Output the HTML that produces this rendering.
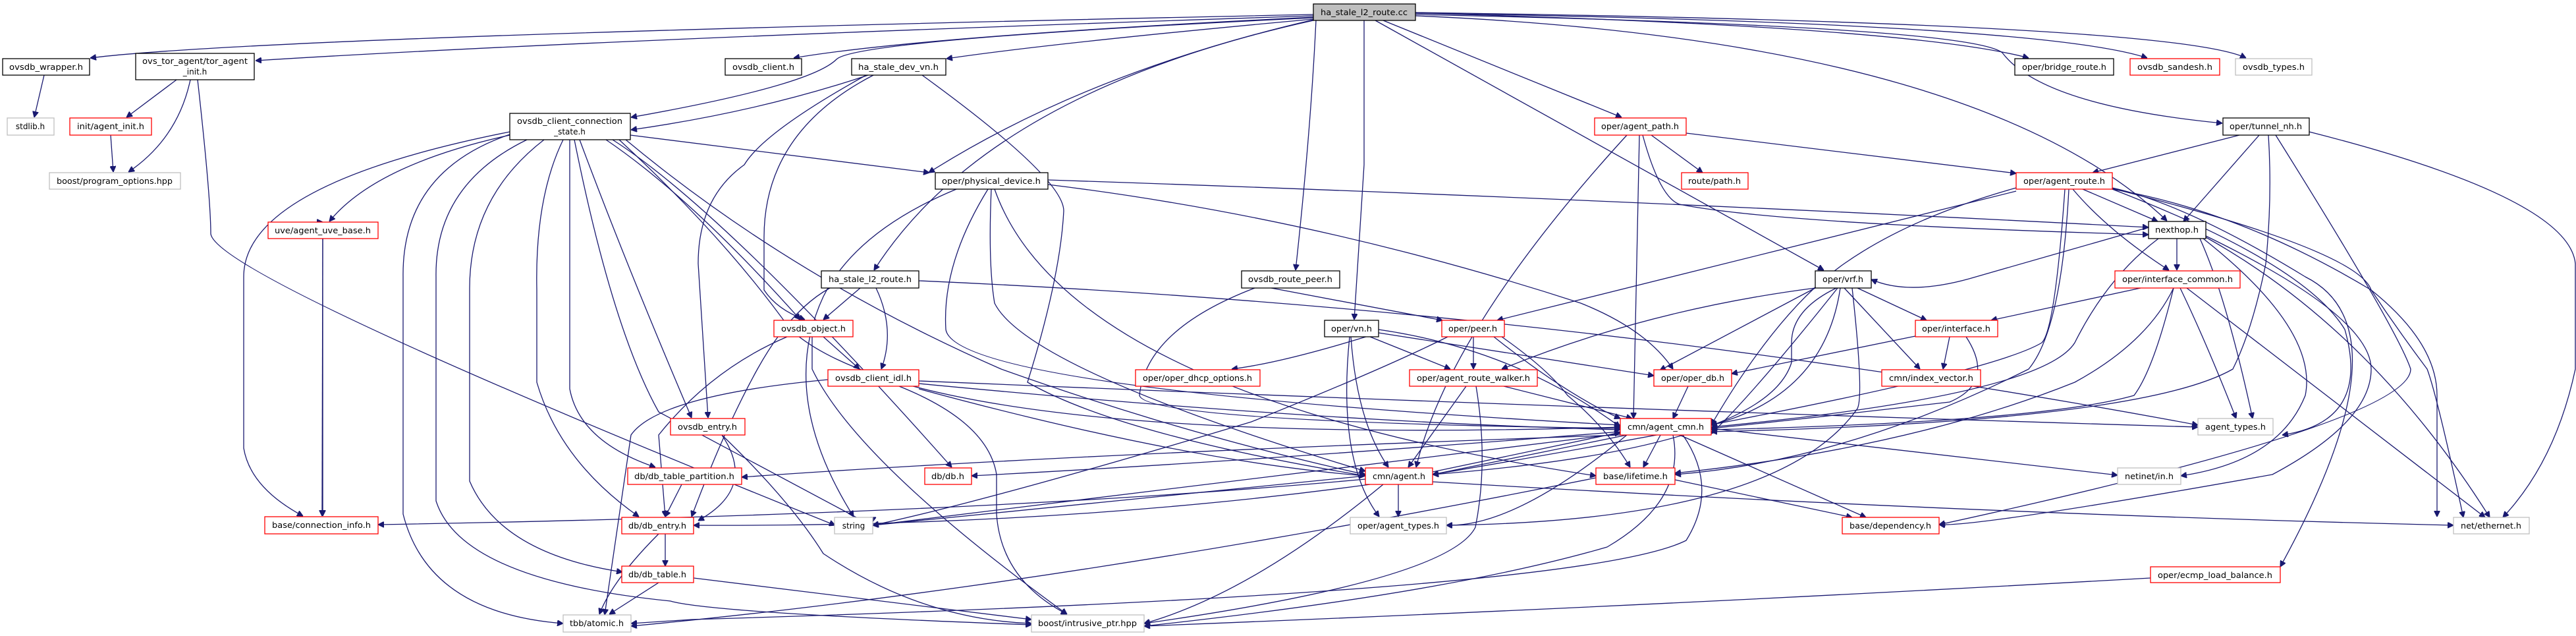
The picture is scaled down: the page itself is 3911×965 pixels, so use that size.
<!DOCTYPE html>
<html><head><meta charset="utf-8"><style>
html,body{margin:0;padding:0;background:#fff;}
svg{display:block;}
text{font-family:"DejaVu Sans","Liberation Sans",sans-serif;font-size:12px;fill:#000;}
.b{fill:#fff;stroke:#000;stroke-width:1.3;}
.r{fill:#fff;stroke:#ff0000;stroke-width:1.3;}
.l{fill:#fff;stroke:#bfbfbf;stroke-width:1.3;}
.g{fill:#bfbfbf;stroke:#000;stroke-width:1.3;}
path{fill:none;stroke:#191970;stroke-width:1.3;marker-end:url(#a);}
</style></head><body>
<svg width="3911" height="965" viewBox="0 0 3911 965" xmlns="http://www.w3.org/2000/svg">
<defs><marker id="a" viewBox="0 0 10 10" refX="10" refY="5" markerWidth="9" markerHeight="9" markerUnits="userSpaceOnUse" orient="auto"><path d="M0,0 L10,5 L0,10 z" style="fill:#191970;stroke:#191970;marker-end:none"/></marker></defs>

<!-- edges from root -->
<path d="M1994 22 Q 400 55 137 88"/>
<path d="M1994 24 Q 900 60 388 92"/>
<path d="M1994 26 Q 1400 55 1205 88"/>
<path d="M1994 29 Q 1600 65 1437 89"/>
<path d="M1994 27 Q 1300 60 1270 90 Q 1230 130 958 178"/>
<path d="M1994 31 Q 1500 140 1327 410"/>
<path d="M1998 31 Q 1990 200 1967 410"/>
<path d="M2071 31 L 2071 250 L 2056 485"/>
<path d="M2100 31 L 2462 178"/>
<path d="M2088 31 L 2769 410"/>
<path d="M2149 24 Q 3000 60 3290 335"/>
<path d="M2149 22 Q 2990 40 3040 80 Q 3100 160 3374 187"/>
<path d="M2149 20 Q 2900 40 3080 88"/>
<path d="M2149 20 Q 3100 35 3260 88"/>
<path d="M2149 19 Q 3300 35 3410 88"/>
<path d="M1994 30 Q 1650 110 1410 262"/>

<!-- left cluster -->
<path d="M67 114 L 52 178"/>
<path d="M268 121 L 192 178"/>
<path d="M289 121 Q 270 210 195 261"/>
<path d="M168 205 L 172 261"/>
<path d="M300 121 Q 320 300 320 355 Q 330 420 1268 797"/>
<path d="M490 362 L 489 783"/>

<!-- connection_state edges -->
<path d="M774 205 Q 570 250 500 336"/>
<path d="M774 200 Q 370 280 370 420 L 370 680 Q 380 740 460 783"/>
<path d="M774 204 Q 610 260 612 420 L 612 780 Q 650 930 855 946"/>
<path d="M800 212 Q 660 280 662 420 L 662 760 Q 700 880 1018 912 Q 1080 930 1566 948"/>
<path d="M826 212 Q 712 300 713 440 L 713 730 Q 760 840 945 868"/>
<path d="M855 212 Q 812 300 815 440 L 815 580 Q 850 700 970 784"/>
<path d="M865 212 L 865 590 Q 880 670 995 709"/>
<path d="M872 212 Q 930 500 1000 625 L 1300 785 Q 1320 790 1330 785"/>
<path d="M880 212 Q 950 400 1050 634"/>
<path d="M920 212 Q 1050 300 1215 485"/>
<path d="M930 212 Q 1100 320 1445 709"/>
<path d="M957 205 L 1411 262"/>
<path d="M940 212 Q 1100 360 1200 500 Q 1400 680 2460 648"/>
<path d="M950 212 Q 1200 420 1520 560 Q 1800 660 2073 720"/>
<path d="M490 337 L 490 337"/>

<!-- ha_stale_dev_vn -->
<path d="M1318 114 Q 1150 170 958 197"/>
<path d="M1315 114 Q 1160 200 1130 250 Q 1060 300 1060 400 L 1075 634"/>
<path d="M1326 114 Q 1160 200 1160 360 L 1160 440 Q 1180 470 1222 485"/>
<path d="M1400 114 Q 1615 270 1615 320 Q 1610 420 1560 580 Q 1700 660 2073 722"/>

<!-- physical_device -->
<path d="M1591 273 Q 2400 300 3262 345"/>
<path d="M1591 280 Q 2000 330 2400 460 Q 2500 500 2540 560"/>
<path d="M1452 287 Q 1300 350 1250 450 Q 1180 600 1296 784"/>
<path d="M1500 287 Q 1430 400 1436 500 Q 1450 590 2460 645"/>
<path d="M1505 287 Q 1500 400 1510 460 Q 1560 560 2073 715"/>
<path d="M1510 287 Q 1620 600 2423 722"/>

<!-- ha_stale_l2_route.h -->
<path d="M1306 437 L 1250 485"/>
<path d="M1260 437 Q 1200 470 1150 560 Q 1100 650 1050 784"/>
<path d="M1395 426 Q 2400 470 3337 645"/>
<path d="M1330 437 Q 1360 500 1338 560"/>

<!-- ovsdb_object -->
<path d="M1250 511 L 1305 560"/>
<path d="M1195 511 Q 1080 560 1000 660 L 1010 784"/>
<path d="M1233 511 L 1233 560 Q 1300 700 1620 932"/>

<!-- ovsdb_client_idl -->
<path d="M1257 576 Q 1000 600 958 660 L 918 933"/>
<path d="M1365 586 Q 1500 640 1513 720 L 1513 780 Q 1520 880 1620 932"/>
<path d="M1395 578 Q 2400 620 3337 648"/>
<path d="M1395 582 Q 2000 640 2460 652"/>
<path d="M1395 590 Q 1800 700 2073 722"/>

<!-- ovsdb_entry -->
<path d="M1096 660 Q 1150 740 1060 790"/>
<path d="M1096 660 Q 1200 760 1250 840 Q 1400 940 1566 946"/>

<!-- db cluster -->
<path d="M1035 735 L 1010 784"/>
<path d="M1010 810 L 1010 859"/>
<path d="M1000 810 Q 930 880 910 932"/>
<path d="M1000 884 L 925 932"/>
<path d="M1053 877 L 1566 940"/>
<path d="M490 337 L 490 337"/>

<!-- uve / connection -->
<path d="M490 362 L 490 783"/>

<!-- route_peer -->
<path d="M1905 437 Q 1740 500 1730 600 Q 1740 640 2460 650"/>
<path d="M1930 437 L 2190 486"/>

<!-- agent_path -->
<path d="M2560 202 L 3061 263"/>
<path d="M2507 205 L 2585 262"/>
<path d="M2470 205 Q 2200 500 2150 709"/>
<path d="M2489 205 L 2480 635"/>
<path d="M2494 205 Q 2520 300 2550 310 Q 2700 340 3262 356"/>

<!-- agent_route -->
<path d="M3162 287 L 3276 336"/>
<path d="M3147 287 Q 3200 350 3293 410"/>
<path d="M3061 290 Q 2700 380 2273 486"/>
<path d="M3061 285 Q 2900 330 2800 400 Q 2700 470 2598 645"/>
<path d="M3135 287 Q 3120 500 3100 520 Q 3000 580 2175 720"/>
<path d="M3207 287 Q 3400 320 3600 440 Q 3700 520 3700 600 L 3700 784"/>
<path d="M3207 286 Q 3580 380 3600 440 Q 3640 500 3685 560 Q 3700 600 3740 785"/>
<path d="M3207 287 Q 3500 400 3560 500 Q 3600 640 3465 660"/>
<path d="M3207 285 Q 3320 310 3500 420 Q 3660 500 3462 860"/>
<path d="M3141 287 Q 3130 500 3080 560 Q 2800 700 2543 720"/>

<!-- tunnel_nh -->
<path d="M3400 205 L 3177 262"/>
<path d="M3430 205 L 3315 336"/>
<path d="M3444 205 Q 3450 300 3440 400 Q 3420 500 3390 560 Q 3250 640 2598 655"/>
<path d="M3455 205 Q 3640 500 3660 560 Q 3660 640 2944 796"/>
<path d="M3506 200 Q 3900 300 3910 400 L 3910 560 Q 3880 700 3800 785"/>

<!-- nexthop -->
<path d="M3305 362 L 3305 410"/>
<path d="M3262 345 L 3000 420 Q 2900 450 2841 424"/>
<path d="M3277 362 Q 3200 420 3150 520 Q 3100 600 2598 648"/>
<path d="M3340 362 Q 3380 450 3420 635"/>
<path d="M3345 362 Q 3520 500 3500 600 Q 3460 700 3311 722"/>
<path d="M3349 360 Q 3600 500 3780 785"/>
<path d="M3349 358 Q 3600 480 3600 560 Q 3600 640 3450 720 Q 3000 800 2944 796"/>

<!-- interface_common -->
<path d="M3250 437 L 3023 486"/>
<path d="M3300 437 Q 3270 560 3240 600 Q 3100 640 2598 652"/>
<path d="M3310 437 Q 3350 520 3395 635"/>
<path d="M3320 437 L 3773 785"/>
<path d="M3300 437 Q 3260 520 3150 580 Q 2900 680 2543 718"/>

<!-- vrf -->
<path d="M2820 437 L 2925 486"/>
<path d="M2800 437 L 2915 560"/>
<path d="M2794 437 Q 2770 600 2598 645"/>
<path d="M2756 437 Q 2500 470 2280 560"/>
<path d="M2756 437 L 2520 562"/>
<path d="M2790 437 Q 2660 600 2598 658"/>
<path d="M2812 437 Q 2830 600 2820 620 Q 2700 790 2196 797"/>
<path d="M2788 437 Q 2720 470 2720 520 L 2720 550 Q 2680 680 2175 720"/>

<!-- interface -->
<path d="M2960 511 L 2950 560"/>
<path d="M2908 510 L 2629 567"/>
<path d="M2985 511 Q 3030 580 2960 610 Q 2700 640 2598 650"/>

<!-- vn -->
<path d="M2093 505 Q 1950 550 1870 560"/>
<path d="M2093 505 L 2511 570"/>
<path d="M2080 511 L 2202 560"/>
<path d="M2051 511 Q 2060 640 2108 709"/>
<path d="M2049 511 Q 2030 700 2094 784"/>
<path d="M2093 500 Q 2300 530 2460 648"/>

<!-- peer -->
<path d="M2237 511 L 2237 560"/>
<path d="M2280 511 Q 2350 560 2380 600 Q 2440 650 2475 709"/>
<path d="M2198 511 Q 2100 560 1900 640 Q 1500 760 1325 797"/>
<path d="M2268 511 Q 2380 600 2460 635"/>

<!-- walker -->
<path d="M2226 586 L 2138 709"/>
<path d="M2283 586 L 2478 635"/>
<path d="M2241 586 Q 2260 700 2240 800 Q 2200 880 1737 946"/>

<!-- oper_db -->
<path d="M2563 586 L 2540 635"/>

<!-- agent_cmn -->
<path d="M2470 660 L 2175 720"/>
<path d="M2521 660 L 2495 709"/>
<path d="M2550 660 L 2833 785"/>
<path d="M2598 650 L 3215 721"/>
<path d="M2460 655 Q 1900 700 1475 722"/>
<path d="M2460 660 Q 1600 690 1126 724"/>
<path d="M2540 660 Q 2560 760 2440 830 Q 2200 900 1737 950"/>
<path d="M2555 660 Q 2610 740 2560 820 Q 2400 900 1050 940 L 958 946"/>
<path d="M2460 658 Q 1800 740 1325 797"/>
<path d="M2470 660 Q 2300 800 2196 797"/>

<!-- agent.h -->
<path d="M2175 716 L 2460 656"/>
<path d="M2123 735 L 2123 784"/>
<path d="M2073 722 Q 1700 760 1325 797"/>
<path d="M2073 727 Q 1500 780 574 796"/>
<path d="M2080 735 Q 1600 800 1053 797"/>
<path d="M2175 731 Q 3000 780 3725 797"/>
<path d="M2100 735 Q 1900 900 1737 946"/>

<!-- lifetime -->
<path d="M2543 728 L 2812 785"/>
<path d="M2423 725 Q 1600 890 958 950"/>

<!-- ecmp -->
<path d="M3265 877 Q 2500 920 1737 950"/>

<!-- nodes -->
<rect class="g" x="1994" y="6" width="155" height="25"/><text x="2071" y="23" text-anchor="middle" textLength="132" lengthAdjust="spacingAndGlyphs">ha_stale_l2_route.cc</text>
<rect class="b" x="4" y="89" width="132" height="25"/><text x="70" y="106" text-anchor="middle" textLength="112" lengthAdjust="spacingAndGlyphs">ovsdb_wrapper.h</text>
<rect class="b" x="206" y="81" width="180" height="40"/><text x="296" y="97" text-anchor="middle" textLength="160" lengthAdjust="spacingAndGlyphs">ovs_tor_agent/tor_agent</text><text x="296" y="113" text-anchor="middle">_init.h</text>
<rect class="l" x="11" y="179" width="71" height="26"/><text x="46" y="196" text-anchor="middle">stdlib.h</text>
<rect class="r" x="106" y="179" width="124" height="26"/><text x="168" y="196" text-anchor="middle" textLength="102" lengthAdjust="spacingAndGlyphs">init/agent_init.h</text>
<rect class="l" x="75" y="262" width="199" height="25"/><text x="174" y="279" text-anchor="middle" textLength="176" lengthAdjust="spacingAndGlyphs">boost/program_options.hpp</text>
<rect class="b" x="774" y="172" width="183" height="40"/><text x="865" y="188" text-anchor="middle" textLength="160" lengthAdjust="spacingAndGlyphs">ovsdb_client_connection</text><text x="865" y="204" text-anchor="middle">_state.h</text>
<rect class="r" x="407" y="337" width="167" height="25"/><text x="490" y="354" text-anchor="middle" textLength="146" lengthAdjust="spacingAndGlyphs">uve/agent_uve_base.h</text>
<rect class="r" x="402" y="784" width="172" height="26"/><text x="488" y="801" text-anchor="middle" textLength="150" lengthAdjust="spacingAndGlyphs">base/connection_info.h</text>
<rect class="l" x="855" y="933" width="103" height="26"/><text x="906" y="950" text-anchor="middle" textLength="82" lengthAdjust="spacingAndGlyphs">tbb/atomic.h</text>
<rect class="b" x="1101" y="89" width="116" height="25"/><text x="1159" y="106" text-anchor="middle" textLength="94" lengthAdjust="spacingAndGlyphs">ovsdb_client.h</text>
<rect class="b" x="1293" y="89" width="143" height="25"/><text x="1364" y="106" text-anchor="middle" textLength="122" lengthAdjust="spacingAndGlyphs">ha_stale_dev_vn.h</text>
<rect class="b" x="1420" y="262" width="171" height="25"/><text x="1505" y="279" text-anchor="middle" textLength="150" lengthAdjust="spacingAndGlyphs">oper/physical_device.h</text>
<rect class="b" x="1247" y="411" width="148" height="26"/><text x="1321" y="428" text-anchor="middle" textLength="126" lengthAdjust="spacingAndGlyphs">ha_stale_l2_route.h</text>
<rect class="b" x="1885" y="411" width="149" height="26"/><text x="1959" y="428" text-anchor="middle" textLength="128" lengthAdjust="spacingAndGlyphs">ovsdb_route_peer.h</text>
<rect class="r" x="1175" y="486" width="120" height="25"/><text x="1235" y="503" text-anchor="middle" textLength="98" lengthAdjust="spacingAndGlyphs">ovsdb_object.h</text>
<rect class="r" x="1257" y="561" width="138" height="25"/><text x="1326" y="578" text-anchor="middle" textLength="116" lengthAdjust="spacingAndGlyphs">ovsdb_client_idl.h</text>
<rect class="r" x="1724" y="561" width="189" height="25"/><text x="1818" y="578" text-anchor="middle" textLength="166" lengthAdjust="spacingAndGlyphs">oper/oper_dhcp_options.h</text>
<rect class="r" x="1018" y="635" width="113" height="25"/><text x="1074" y="652" text-anchor="middle" textLength="90" lengthAdjust="spacingAndGlyphs">ovsdb_entry.h</text>
<rect class="r" x="953" y="710" width="173" height="25"/><text x="1039" y="727" text-anchor="middle" textLength="152" lengthAdjust="spacingAndGlyphs">db/db_table_partition.h</text>
<rect class="r" x="1404" y="710" width="71" height="25"/><text x="1439" y="727" text-anchor="middle" textLength="50" lengthAdjust="spacingAndGlyphs">db/db.h</text>
<rect class="l" x="1267" y="785" width="58" height="25"/><text x="1296" y="802" text-anchor="middle">string</text>
<rect class="r" x="944" y="785" width="109" height="25"/><text x="998" y="802" text-anchor="middle" textLength="88" lengthAdjust="spacingAndGlyphs">db/db_entry.h</text>
<rect class="r" x="944" y="859" width="109" height="25"/><text x="998" y="876" text-anchor="middle" textLength="88" lengthAdjust="spacingAndGlyphs">db/db_table.h</text>
<rect class="l" x="1566" y="933" width="171" height="26"/><text x="1651" y="950" text-anchor="middle" textLength="150" lengthAdjust="spacingAndGlyphs">boost/intrusive_ptr.hpp</text>
<rect class="r" x="2421" y="179" width="139" height="26"/><text x="2490" y="196" text-anchor="middle" textLength="118" lengthAdjust="spacingAndGlyphs">oper/agent_path.h</text>
<rect class="r" x="2553" y="262" width="101" height="25"/><text x="2603" y="279" text-anchor="middle" textLength="80" lengthAdjust="spacingAndGlyphs">route/path.h</text>
<rect class="b" x="2756" y="411" width="85" height="26"/><text x="2798" y="428" text-anchor="middle" textLength="62" lengthAdjust="spacingAndGlyphs">oper/vrf.h</text>
<rect class="b" x="2011" y="486" width="82" height="25"/><text x="2052" y="503" text-anchor="middle" textLength="62" lengthAdjust="spacingAndGlyphs">oper/vn.h</text>
<rect class="r" x="2189" y="486" width="95" height="25"/><text x="2236" y="503" text-anchor="middle" textLength="74" lengthAdjust="spacingAndGlyphs">oper/peer.h</text>
<rect class="r" x="2908" y="486" width="125" height="25"/><text x="2970" y="503" text-anchor="middle" textLength="104" lengthAdjust="spacingAndGlyphs">oper/interface.h</text>
<rect class="r" x="2140" y="561" width="194" height="25"/><text x="2237" y="578" text-anchor="middle" textLength="172" lengthAdjust="spacingAndGlyphs">oper/agent_route_walker.h</text>
<rect class="r" x="2511" y="561" width="118" height="25"/><text x="2570" y="578" text-anchor="middle" textLength="96" lengthAdjust="spacingAndGlyphs">oper/oper_db.h</text>
<rect class="r" x="2857" y="561" width="150" height="25"/><text x="2932" y="578" text-anchor="middle" textLength="128" lengthAdjust="spacingAndGlyphs">cmn/index_vector.h</text>
<rect class="r" x="2460" y="635" width="138" height="25"/><text x="2529" y="652" text-anchor="middle" textLength="116" lengthAdjust="spacingAndGlyphs">cmn/agent_cmn.h</text>
<rect class="r" x="2073" y="710" width="102" height="25"/><text x="2124" y="727" text-anchor="middle" textLength="80" lengthAdjust="spacingAndGlyphs">cmn/agent.h</text>
<rect class="r" x="2423" y="710" width="120" height="25"/><text x="2483" y="727" text-anchor="middle" textLength="98" lengthAdjust="spacingAndGlyphs">base/lifetime.h</text>
<rect class="l" x="2050" y="785" width="146" height="25"/><text x="2123" y="802" text-anchor="middle" textLength="124" lengthAdjust="spacingAndGlyphs">oper/agent_types.h</text>
<rect class="r" x="2797" y="785" width="147" height="25"/><text x="2870" y="802" text-anchor="middle" textLength="124" lengthAdjust="spacingAndGlyphs">base/dependency.h</text>
<rect class="b" x="3059" y="89" width="150" height="25"/><text x="3134" y="106" text-anchor="middle" textLength="128" lengthAdjust="spacingAndGlyphs">oper/bridge_route.h</text>
<rect class="r" x="3234" y="89" width="136" height="25"/><text x="3302" y="106" text-anchor="middle" textLength="114" lengthAdjust="spacingAndGlyphs">ovsdb_sandesh.h</text>
<rect class="l" x="3394" y="89" width="116" height="25"/><text x="3452" y="106" text-anchor="middle" textLength="94" lengthAdjust="spacingAndGlyphs">ovsdb_types.h</text>
<rect class="b" x="3375" y="179" width="131" height="26"/><text x="3440" y="196" text-anchor="middle" textLength="110" lengthAdjust="spacingAndGlyphs">oper/tunnel_nh.h</text>
<rect class="r" x="3061" y="262" width="146" height="25"/><text x="3134" y="279" text-anchor="middle" textLength="124" lengthAdjust="spacingAndGlyphs">oper/agent_route.h</text>
<rect class="b" x="3262" y="336" width="87" height="26"/><text x="3305" y="353" text-anchor="middle" textLength="66" lengthAdjust="spacingAndGlyphs">nexthop.h</text>
<rect class="r" x="3211" y="411" width="190" height="26"/><text x="3306" y="428" text-anchor="middle" textLength="168" lengthAdjust="spacingAndGlyphs">oper/interface_common.h</text>
<rect class="l" x="3337" y="635" width="114" height="25"/><text x="3394" y="652" text-anchor="middle" textLength="92" lengthAdjust="spacingAndGlyphs">agent_types.h</text>
<rect class="l" x="3215" y="710" width="96" height="25"/><text x="3263" y="727" text-anchor="middle" textLength="74" lengthAdjust="spacingAndGlyphs">netinet/in.h</text>
<rect class="l" x="3725" y="785" width="115" height="25"/><text x="3782" y="802" text-anchor="middle" textLength="92" lengthAdjust="spacingAndGlyphs">net/ethernet.h</text>
<rect class="r" x="3265" y="860" width="197" height="24"/><text x="3363" y="877" text-anchor="middle" textLength="174" lengthAdjust="spacingAndGlyphs">oper/ecmp_load_balance.h</text>
</svg>
</body></html>
